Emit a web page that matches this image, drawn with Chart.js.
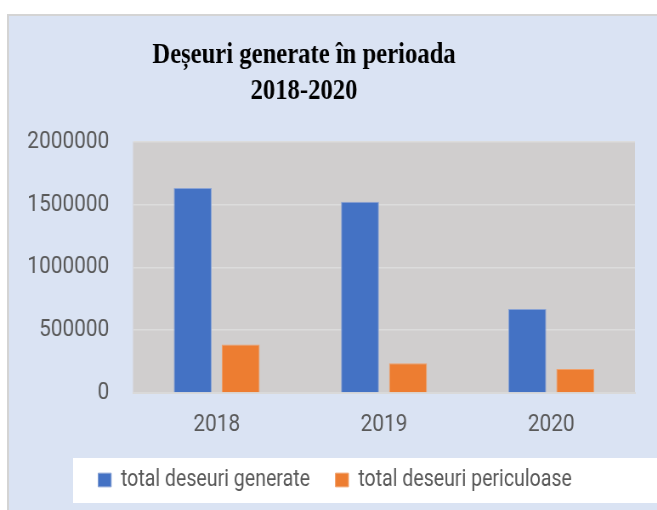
<!DOCTYPE html>
<html>
<head>
<meta charset="utf-8">
<script src="https://cdn.jsdelivr.net/npm/chart.js@4"></script>
<style>
  body { margin: 0; width: 657px; height: 510px; overflow: hidden; background: #fff; position: relative; }
  #panel { position: absolute; left: 7px; top: 14px; right: 0; bottom: 0; background: #dae3f3;
           border-left: 2px solid #d4d4d4; border-top: 2px solid #d4d4d4; }
  #legendBg { position: absolute; left: 73px; top: 458px; width: 584px; height: 45px; background: #fff; }
  /* the original picture is squeezed sideways, so the chart is drawn wider and scaled down */
  #wrap { position: absolute; left: 0; top: 0; width: 773px; height: 510px;
          transform: scaleX(0.85); transform-origin: 0 0; }
</style>
</head>
<body>
<div id="panel"></div>
<div id="legendBg"></div>
<div id="wrap"><canvas id="wasteChart"></canvas></div>
<script>
// ======================= DATE =======================
const years = ["2018", "2019", "2020"];
const totalGenerate = [1630000, 1520000, 667000];
const totalPericuloase = [385000, 237000, 191000];
const yTicks = [0, 500000, 1000000, 1500000, 2000000];

const titleLines = ["Deșeuri generate în perioada", "2018-2020"];
const seriesNames = ["total deseuri generate", "total deseuri periculoase"];

const SQUEEZE = 0.85;
// title and legend are not centred on the canvas in the original
const TITLE_CENTER = 304 / SQUEEZE;
const LEGEND_CENTER = 335 / SQUEEZE;

// gray plot background
const plotBg = {
  id: "plotBg",
  beforeDraw(chart) {
    const { ctx, chartArea: a } = chart;
    ctx.save();
    ctx.fillStyle = "#d0cece";
    ctx.fillRect(a.left, a.top, a.right - a.left, a.bottom - a.top);
    ctx.restore();
  },
};

// move a full width box so its middle lands on a given x
function centerBox(box, cx) {
  const w = box.right - box.left;
  box.left = cx - w / 2;
  box.right = cx + w / 2;
}

const boxShift = {
  id: "boxShift",
  afterLayout(chart) {
    centerBox(chart.titleBlock, TITLE_CENTER);
    centerBox(chart.legend, LEGEND_CENTER);
  },
};

const tickFont = { family: "Roboto", size: 24.5 };

new Chart(document.getElementById("wasteChart"), {
  type: "bar",
  data: {
    labels: years,
    datasets: [
      {
        label: seriesNames[0],
        data: totalGenerate,
        backgroundColor: "#4472c4",
        borderColor: "#8aa3d4",
        borderWidth: 1,
      },
      {
        label: seriesNames[1],
        data: totalPericuloase,
        backgroundColor: "#ed7d31",
        borderColor: "#f0a06a",
        borderWidth: 1,
      },
    ],
  },
  options: {
    responsive: true,
    maintainAspectRatio: false,
    animation: false,
    categoryPercentage: 0.574,
    barPercentage: 0.79,
    layout: { padding: { top: 0, left: 0, right: 26, bottom: 8.5 } },
    plugins: {
      title: {
        display: true,
        text: titleLines,
        color: "#000",
        font: { family: "Liberation Serif", size: 29, weight: "bold", lineHeight: 1.25 },
        padding: { top: 37, bottom: 32 },
      },
      legend: {
        position: "bottom",
        labels: {
          color: "#595959",
          font: { family: "Roboto", size: 23 },
          boxWidth: 15.3,
          boxHeight: 13.7,
          padding: 30,
        },
      },
      tooltip: { enabled: false },
    },
    scales: {
      x: {
        grid: { display: false, drawTicks: false },
        border: { display: true, color: "#d9d9d9", width: 2 },
        ticks: { color: "#595959", font: tickFont, padding: 17.6 },
        afterFit: (s) => { s.height = 45.5; },
      },
      y: {
        min: 0,
        max: 2000000,
        afterBuildTicks: (s) => { s.ticks = yTicks.map((v) => ({ value: v })); },
        grid: { color: "#dcdcdc", lineWidth: 1.5, drawTicks: false },
        border: { display: false },
        ticks: { color: "#595959", font: tickFont, padding: 28, callback: (v) => String(v) },
        afterFit: (s) => { s.width = 156.5; },
      },
    },
  },
  plugins: [plotBg, boxShift],
});
</script>
</body>
</html>
